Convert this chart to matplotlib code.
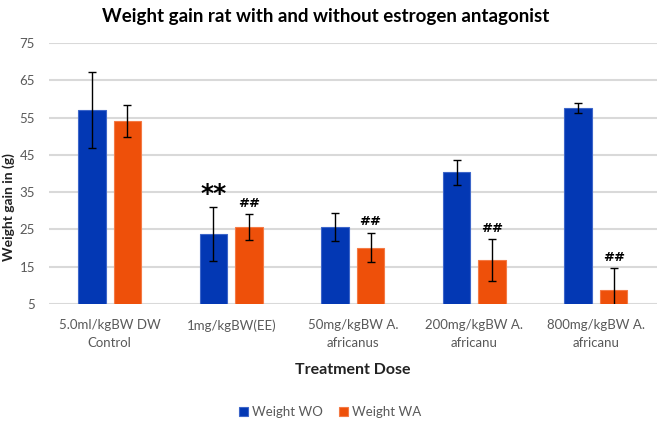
import numpy as np
import matplotlib.pyplot as plt

# ── Data ──────────────────────────────────────────────────────────────
categories = ["5.0ml/kgBW DW\nControl", "1mg/kgBW(EE)", "50mg/kgBW A.\nafricanus",
              "200mg/kgBW A.\nafricanu", "800mg/kgBW A.\nafricanu"]
weight_wo = [57.0, 23.8, 25.6, 40.3, 57.6]
weight_wo_err = [10.3, 7.2, 3.8, 3.4, 1.3]
weight_wa = [54.1, 25.6, 20.1, 16.8, 8.8]
weight_wa_err = [4.3, 3.4, 4.0, 5.6, 5.8]
wo_marks = ["", "**", "", "", ""]
wa_marks = ["", "##", "##", "##", "##"]

BLUE = "#0338B4"
ORANGE = "#EE500A"
GRID = "#D9D9D9"
TXT = "#595959"

plt.rcParams["font.family"] = ["Lato", "DejaVu Sans"]

fig = plt.figure(figsize=(6.6, 4.22), dpi=100)
ax = fig.add_axes([0.074, 0.280, 0.921, 0.618])

x = np.arange(len(categories))
w = 0.226
off = 0.146

ax.bar(x - off, weight_wo, w, color=BLUE, edgecolor="#3D66C9",
       linewidth=0.8, label="Weight WO", zorder=2)
ax.bar(x + off, weight_wa, w, color=ORANGE, edgecolor="#F47A45",
       linewidth=0.8, label="Weight WA", zorder=2)
ax.errorbar(x - off, weight_wo, yerr=weight_wo_err, fmt="none", ecolor="black",
            elinewidth=1, capsize=3, capthick=1, zorder=3)
ax.errorbar(x + off, weight_wa, yerr=weight_wa_err, fmt="none", ecolor="black",
            elinewidth=1, capsize=3, capthick=1, zorder=3)

# significance marks
for i in range(len(categories)):
    if wo_marks[i]:
        ax.text(x[i] - off, weight_wo[i] + weight_wo_err[i] + 0.3, wo_marks[i],
                ha="center", va="bottom", fontsize=18, fontweight="bold",
                family="DejaVu Sans")
    if wa_marks[i]:
        ax.text(x[i] + off, weight_wa[i] + weight_wa_err[i] + 1.2, wa_marks[i],
                ha="center", va="bottom", fontsize=9.5, fontweight="bold",
                family="DejaVu Sans")

ax.set_ylim(5, 75)
ax.set_xlim(-0.5, len(categories) - 0.5)
ax.set_yticks(np.arange(5, 76, 10))
ax.yaxis.grid(True, color=GRID, linewidth=1.5, zorder=0)
ax.set_axisbelow(True)
for s in ax.spines.values():
    s.set_visible(False)
ax.tick_params(length=0, colors=TXT, labelsize=9.5)
ax.tick_params(axis="y", pad=10)
ax.tick_params(axis="x", pad=11)
ax.set_xticks(x)
ax.set_xticklabels(categories, linespacing=1.55)

ax.set_ylabel("Weight gain in (g)", fontsize=10, fontweight="bold", color="#222222")
ax.yaxis.set_label_coords(-0.056, 0.37)
ax.set_xlabel("Treatment Dose", fontsize=11.5, fontweight="bold", color="#222222", labelpad=10)
fig.text(0.494, 0.962, "Weight gain rat with and without estrogen antagonist",
         ha="center", va="center", fontsize=13.5, fontweight="bold")

fig.legend(loc="center", bbox_to_anchor=(0.5, 0.024), ncol=2, frameon=False,
           fontsize=9.5, handlelength=0.7, handleheight=0.7, handletextpad=0.3,
           columnspacing=1.2, labelcolor=TXT)

fig.savefig("out.png", dpi=100)
